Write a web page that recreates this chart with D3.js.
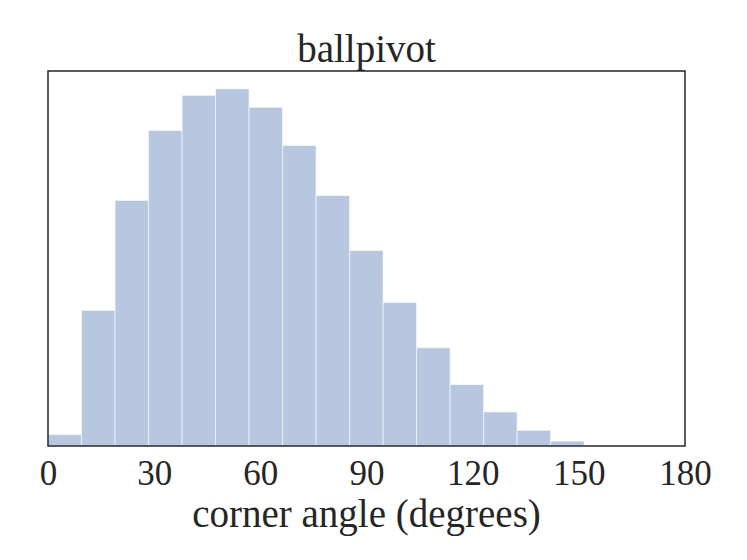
<!DOCTYPE html>
<html>
<head>
<meta charset="utf-8">
<script src="https://cdnjs.cloudflare.com/ajax/libs/d3/7.8.5/d3.min.js"></script>
<style>
  body { margin: 0; background: #fff; }
  text { font-family: 'Liberation Serif', 'Times New Roman', serif; fill: #262626; }
</style>
</head>
<body>
<div class="chart-holder"></div>
<script>
let title = 'ballpivot'
let xLabel = 'corner angle (degrees)'
let xTicks = [0, 30, 60, 90, 120, 150, 180]
// histogram bins (degrees) and density values
let binStart = [0, 9.47, 18.94, 28.41, 37.88, 47.34, 56.81, 66.28, 75.75, 85.22, 94.69, 104.16, 113.63, 123.09, 132.56, 142.03]
let binWidth = 9.47
let density = [0.00042, 0.00501, 0.00907, 0.01165, 0.01295, 0.01319, 0.01251, 0.01110,
               0.00925, 0.00722, 0.00530, 0.00363, 0.00227, 0.00126, 0.00058, 0.00018]

let margin = { top: 71, bottom: 114, left: 48, right: 62 }
let width = 747 - margin.left - margin.right
let height = 560 - margin.top - margin.bottom

let svg = d3.select('.chart-holder')
    .append('svg')
        .attr('width', 747)
        .attr('height', 560)

let plot = svg.append('g')
    .attr('transform', 'translate(' + margin.left + ',' + margin.top + ')')

let x = d3.scaleLinear().domain([0, 180]).range([0, width])
let y = d3.scaleLinear().domain([0, d3.max(density) * 1.05]).range([height, 0])

let bins = binStart.map((s, i) => ({ x0: s, x1: s + binWidth, v: density[i] }))

plot.selectAll('rect.bar')
    .data(bins)
    .enter()
    .append('rect').attr('class', 'bar')
        .attr('x', d => x(d.x0))
        .attr('width', d => x(d.x1) - x(d.x0))
        .attr('y', d => y(d.v))
        .attr('height', d => y(0) - y(d.v))
        .attr('fill', '#b7c7e0')
        .attr('stroke', 'rgba(255,255,255,0.6)')
        .attr('stroke-width', 1)

// frame
plot.append('rect')
    .attr('x', 0).attr('y', 0)
    .attr('width', width).attr('height', height)
    .attr('fill', 'none')
    .attr('stroke', '#262626')
    .attr('stroke-width', 1.5)

let xAxis = plot.append('g')
    .attr('transform', 'translate(0,' + height + ')')
    .call(d3.axisBottom(x).tickValues(xTicks).tickSize(0).tickPadding(14))
xAxis.select('.domain').remove()
xAxis.selectAll('text')
    .attr('fill', '#262626')
    .style('font-family', "'Liberation Serif', serif")
    .style('font-size', '35px')

svg.append('text')
    .attr('x', margin.left + width / 2)
    .attr('y', 527)
    .attr('text-anchor', 'middle')
    .style('font-size', '39px')
    .text(xLabel)

svg.append('text')
    .attr('x', margin.left + width / 2)
    .attr('y', 61.5)
    .attr('text-anchor', 'middle')
    .style('font-size', '39px')
    .text(title)
</script>
</body>
</html>
